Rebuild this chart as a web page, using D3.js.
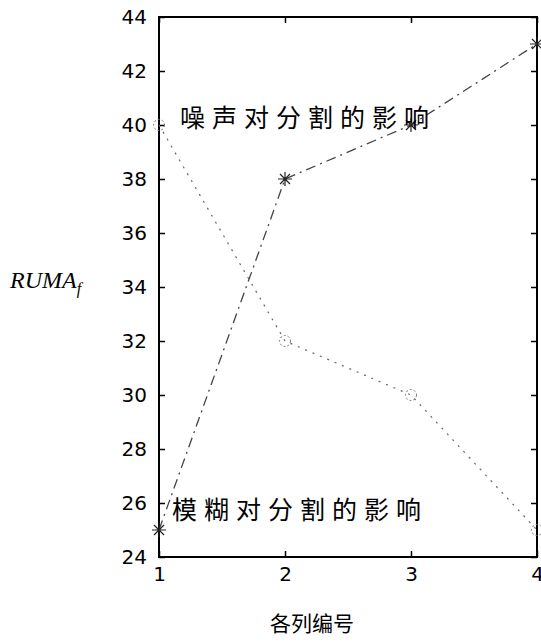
<!DOCTYPE html>
<html><head><meta charset="utf-8">
<script src="https://cdn.jsdelivr.net/npm/d3@7"></script>
<style>body{margin:0;background:#fff}svg{display:block}</style>
</head><body>
<svg id="c" width="541" height="642"></svg>
<script>
const xValues = [1, 2, 3, 4];
const noiseValues = [40, 32, 30, 25];   // 噪声对分割的影响 (circles)
const blurValues = [25, 38, 40, 43];    // 模糊对分割的影响 (stars)
const yTicks = [24, 26, 28, 30, 32, 34, 36, 38, 40, 42, 44];
const xTicks = [1, 2, 3, 4];
const noiseLabel = "噪声对分割的影响";
const blurLabel = "模糊对分割的影响";
const xLabel = "各列编号";

const svg = d3.select("#c");
const L = 159, R = 537, T = 17, B = 557;
const x = d3.scaleLinear().domain([1, 4]).range([L, R]);
const y = d3.scaleLinear().domain([24, 44]).range([B, T]);
const tickFont = "'DejaVu Sans', Arial, sans-serif";

// frame
svg.append("rect").attr("x", L).attr("y", T).attr("width", R - L).attr("height", B - T)
  .attr("fill", "none").attr("stroke", "#000").attr("stroke-width", 2);

// axes (ticks inside)
const yAxisL = svg.append("g").attr("transform", `translate(${L},0)`)
  .call(d3.axisLeft(y).tickValues(yTicks).tickSize(-6).tickPadding(12).tickFormat(d3.format("d")));
const yAxisR = svg.append("g").attr("transform", `translate(${R},0)`)
  .call(d3.axisRight(y).tickValues(yTicks).tickSize(-6).tickFormat(""));
const xAxisB = svg.append("g").attr("transform", `translate(0,${B})`)
  .call(d3.axisBottom(x).tickValues(xTicks).tickSize(-6).tickPadding(10).tickFormat(d3.format("d")));
const xAxisT = svg.append("g").attr("transform", `translate(0,${T})`)
  .call(d3.axisTop(x).tickValues(xTicks).tickSize(-6).tickFormat(""));
[yAxisL, yAxisR, xAxisB, xAxisT].forEach(g => {
  g.select(".domain").remove();
  g.selectAll(".tick line").attr("stroke", "#000").attr("stroke-width", 1.5);
  g.selectAll("text").attr("font-family", tickFont).attr("font-size", 20).attr("fill", "#000");
});

// lines
const line = d3.line().x((d, i) => x(xValues[i])).y(d => y(d));
svg.append("path").datum(noiseValues).attr("d", line)
  .attr("fill", "none").attr("stroke", "#666").attr("stroke-width", 1.2)
  .attr("stroke-dasharray", "2,6");
svg.append("path").datum(blurValues).attr("d", line)
  .attr("fill", "none").attr("stroke", "#444").attr("stroke-width", 1.3)
  .attr("stroke-dasharray", "10,5,2,5");

// circle markers
svg.append("g").selectAll("circle").data(noiseValues).join("circle")
  .attr("cx", (d, i) => x(xValues[i])).attr("cy", d => y(d)).attr("r", 5.5)
  .attr("fill", "none").attr("stroke", "#777").attr("stroke-width", 1).attr("stroke-dasharray", "2,2");

// star markers
const star = svg.append("g").selectAll("g").data(blurValues).join("g")
  .attr("transform", (d, i) => `translate(${x(xValues[i])},${y(d)})`);
star.append("path").attr("d", "M-7,0H7M0,-7V7M-5,-5L5,5M-5,5L5,-5")
  .attr("stroke", "#222").attr("stroke-width", 1.2);

// annotations
const cjk = "'Noto Sans CJK SC', sans-serif";
svg.append("text").attr("x", 180).attr("y", 127).text(noiseLabel)
  .attr("font-family", cjk).attr("font-size", 25).attr("letter-spacing", 7).attr("fill", "#000");
svg.append("text").attr("x", 172).attr("y", 519).text(blurLabel)
  .attr("font-family", cjk).attr("font-size", 25).attr("letter-spacing", 7).attr("fill", "#000");

// x label
svg.append("text").attr("x", 312).attr("y", 631).attr("text-anchor", "middle").text(xLabel)
  .attr("font-family", cjk).attr("font-size", 21).attr("fill", "#000");

// y label
const yl = svg.append("text").attr("x", 10).attr("y", 288)
  .attr("font-family", "'Liberation Serif', 'Times New Roman', serif").attr("font-style", "italic")
  .attr("font-size", 24).attr("fill", "#000");
yl.append("tspan").text("RUMA");
yl.append("tspan").text("f").attr("font-size", 16).attr("dy", 6);
</script>
</body></html>
